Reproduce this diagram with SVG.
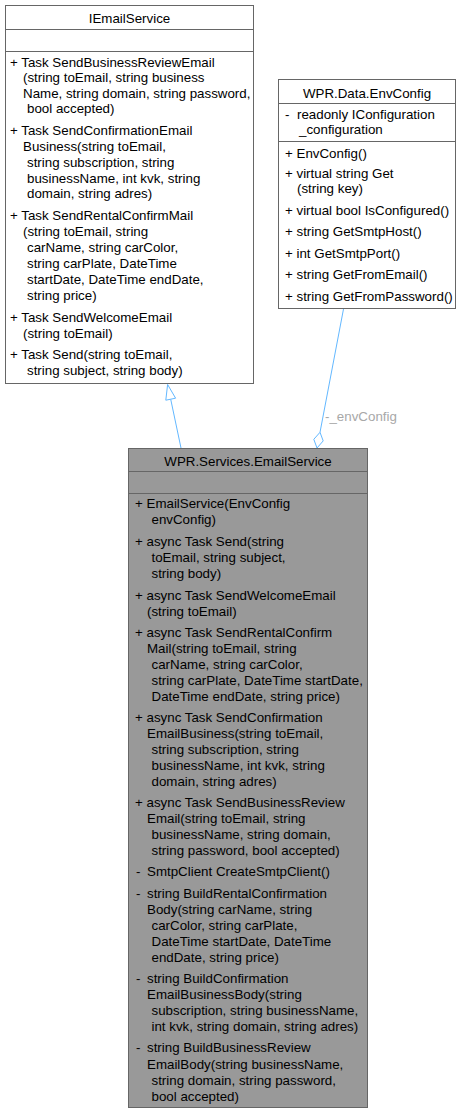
<svg xmlns="http://www.w3.org/2000/svg" width="461" height="1115" viewBox="0 0 461 1115">
<style>
text { font-family: "Liberation Sans", Arial, sans-serif; font-size: 13.33px; fill: #000000; }
.title { text-anchor: middle; }
.box { stroke: #666666; stroke-width: 1; }
.white { fill: #ffffff; }
.grey { fill: #999999; }
.sep { stroke: #666666; stroke-width: 1; fill: none; }
.edge { stroke: #63b8ff; stroke-width: 1; fill: none; }
.head { stroke: #63b8ff; stroke-width: 1; fill: #ffffff; }
.lbl { fill: #a8a8a8; }
</style>
<rect width="461" height="1115" fill="#ffffff"/>

<g id="connectors">
  <line class="edge" x1="181" y1="448" x2="170.7" y2="399.2"/>
  <polygon class="head" points="167.6,384.5 175.6,398.2 165.8,400.2"/>
  <line class="edge" x1="343.5" y1="309" x2="320" y2="432.3"/>
  <polygon class="head" points="317,448 313.8,439.3 320,432.3 323.2,440.9"/>
  <text class="lbl" x="325" y="420.5">-_envConfig</text>
</g>

<g id="IEmailService">
  <rect class="box white" x="5.5" y="5.5" width="248" height="378"/>
  <line class="sep" x1="5.5" y1="29.5" x2="253.5" y2="29.5"/>
  <line class="sep" x1="5.5" y1="51.5" x2="253.5" y2="51.5"/>
  <text class="title" x="129.5" y="22.5">IEmailService</text>
  <text x="10" y="66.5">+ Task SendBusinessReviewEmail</text>
  <text x="23" y="82">(string toEmail, string business</text>
  <text x="23" y="97.5">Name, string domain, string password,</text>
  <text x="27" y="113">bool accepted)</text>
  <text x="10" y="135">+ Task SendConfirmationEmail</text>
  <text x="23" y="150.5">Business(string toEmail,</text>
  <text x="27" y="166.5">string subscription, string</text>
  <text x="27" y="182.5">businessName, int kvk, string</text>
  <text x="27" y="198">domain, string adres)</text>
  <text x="10" y="220">+ Task SendRentalConfirmMail</text>
  <text x="23" y="235.5">(string toEmail, string</text>
  <text x="27" y="251.5">carName, string carColor,</text>
  <text x="27" y="267.5">string carPlate, DateTime</text>
  <text x="27" y="283.5">startDate, DateTime endDate,</text>
  <text x="27" y="299.5">string price)</text>
  <text x="10" y="321.5">+ Task SendWelcomeEmail</text>
  <text x="23" y="337.5">(string toEmail)</text>
  <text x="10" y="358.5">+ Task Send(string toEmail,</text>
  <text x="27" y="374.5">string subject, string body)</text>
</g>

<g id="EnvConfig">
  <rect class="box white" x="278.5" y="79.5" width="177" height="229"/>
  <line class="sep" x1="278.5" y1="103.5" x2="455.5" y2="103.5"/>
  <line class="sep" x1="278.5" y1="141.5" x2="455.5" y2="141.5"/>
  <text class="title" x="367" y="97.5">WPR.Data.EnvConfig</text>
  <text x="285" y="119">-<tspan x="297">readonly IConfiguration</tspan></text>
  <text x="299" y="134">_configuration</text>
  <text x="285" y="158">+ EnvConfig()</text>
  <text x="285" y="178">+ virtual string Get</text>
  <text x="297" y="193">(string key)</text>
  <text x="285" y="214.5">+ virtual bool IsConfigured()</text>
  <text x="285" y="236">+ string GetSmtpHost()</text>
  <text x="285" y="257.5">+ int GetSmtpPort()</text>
  <text x="285" y="279">+ string GetFromEmail()</text>
  <text x="285" y="300.5">+ string GetFromPassword()</text>
</g>

<g id="EmailService">
  <rect class="box grey" x="128.5" y="448.5" width="239" height="659"/>
  <line class="sep" x1="128.5" y1="471.5" x2="367.5" y2="471.5"/>
  <line class="sep" x1="128.5" y1="493.5" x2="367.5" y2="493.5"/>
  <text class="title" x="248" y="466">WPR.Services.EmailService</text>
  <text x="135" y="508">+ EmailService(EnvConfig</text>
  <text x="151.5" y="524">envConfig)</text>
  <text x="135" y="546">+ async Task Send(string</text>
  <text x="151.5" y="562">toEmail, string subject,</text>
  <text x="151.5" y="577.5">string body)</text>
  <text x="135" y="599.5">+ async Task SendWelcomeEmail</text>
  <text x="147" y="615.5">(string toEmail)</text>
  <text x="135" y="636.5">+ async Task SendRentalConfirm</text>
  <text x="147" y="652.5">Mail(string toEmail, string</text>
  <text x="151.5" y="668.5">carName, string carColor,</text>
  <text x="151.5" y="684.5">string carPlate, DateTime startDate,</text>
  <text x="151.5" y="700.5">DateTime endDate, string price)</text>
  <text x="135" y="721.5">+ async Task SendConfirmation</text>
  <text x="147" y="737.5">EmailBusiness(string toEmail,</text>
  <text x="151.5" y="753.5">string subscription, string</text>
  <text x="151.5" y="769.5">businessName, int kvk, string</text>
  <text x="151.5" y="785.5">domain, string adres)</text>
  <text x="135" y="807">+ async Task SendBusinessReview</text>
  <text x="147" y="822.5">Email(string toEmail, string</text>
  <text x="151.5" y="838.5">businessName, string domain,</text>
  <text x="151.5" y="854.5">string password, bool accepted)</text>
  <text x="136" y="876">-<tspan x="147">SmtpClient CreateSmtpClient()</tspan></text>
  <text x="136" y="897.5">-<tspan x="147">string BuildRentalConfirmation</tspan></text>
  <text x="147" y="913.5">Body(string carName, string</text>
  <text x="151.5" y="929.5">carColor, string carPlate,</text>
  <text x="151.5" y="945.5">DateTime startDate, DateTime</text>
  <text x="151.5" y="961.5">endDate, string price)</text>
  <text x="136" y="982.5">-<tspan x="147">string BuildConfirmation</tspan></text>
  <text x="147" y="998.5">EmailBusinessBody(string</text>
  <text x="151.5" y="1014.5">subscription, string businessName,</text>
  <text x="151.5" y="1030.5">int kvk, string domain, string adres)</text>
  <text x="136" y="1051.5">-<tspan x="147">string BuildBusinessReview</tspan></text>
  <text x="147" y="1068.5">EmailBody(string businessName,</text>
  <text x="151.5" y="1084.5">string domain, string password,</text>
  <text x="151.5" y="1100.5">bool accepted)</text>
</g>
</svg>
